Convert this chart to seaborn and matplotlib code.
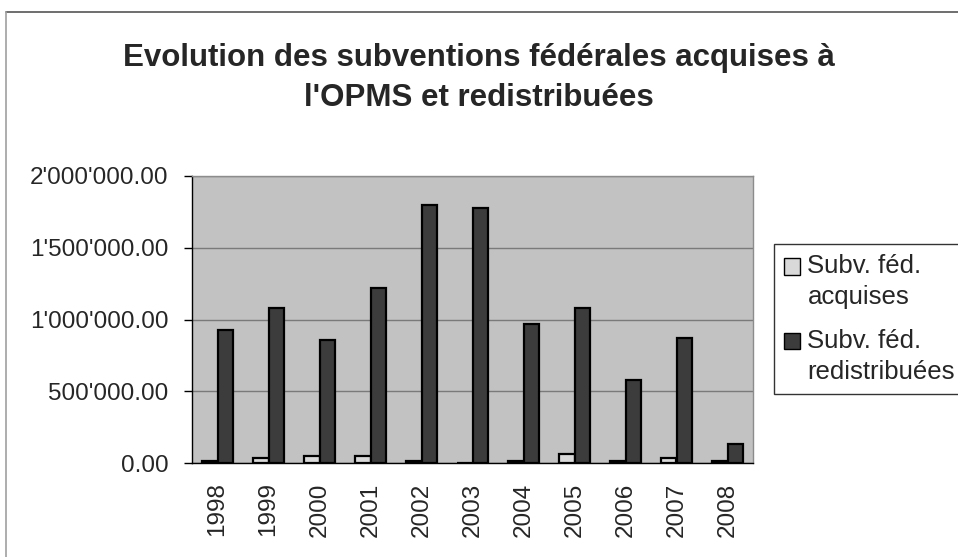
import matplotlib
matplotlib.use("Agg")
import matplotlib.pyplot as plt
import matplotlib.ticker as mticker
from matplotlib.lines import Line2D
from matplotlib.patches import Patch, Rectangle
from matplotlib.legend_handler import HandlerPatch
import seaborn as sns
import pandas as pd
import numpy as np

years = ["1998", "1999", "2000", "2001", "2002", "2003", "2004", "2005", "2006", "2007", "2008"]
acquises = [12000, 38000, 49000, 48000, 12000, 0, 12000, 62000, 12000, 37000, 12000]
redistribuees = [925000, 1082000, 857000, 1222000, 1796000, 1779000, 969000, 1082000, 578000, 873000, 132000]
series_names = ["Subv. féd.\nacquises", "Subv. féd.\nredistribuées"]
title = "Evolution des subventions fédérales acquises à\nl'OPMS et redistribuées"

sns.set_theme(style="white")
plt.rcParams["font.family"] = ["Liberation Sans", "DejaVu Sans"]

df = pd.DataFrame({
    "year": years * 2,
    "series": [series_names[0]] * len(years) + [series_names[1]] * len(years),
    "value": acquises + redistribuees,
})

fig = plt.figure(figsize=(9.58, 5.57), dpi=100)
ax = fig.add_axes([192 / 958, 94 / 557, 561 / 958, 287 / 557])
ax.set_facecolor("#c2c2c2")

colors = ["#d9d9d9", "#3c3c3c"]
sns.barplot(data=df, x="year", y="value", hue="series", hue_order=series_names,
            palette=colors, saturation=1, edgecolor="black", linewidth=1.6,
            width=0.6, gap=0, ax=ax, legend=False, zorder=3)

ax.set_ylim(0, 2000000)
ax.set_xlim(-0.5, len(years) - 0.5)
ax.yaxis.set_major_locator(mticker.MultipleLocator(500000))
ax.yaxis.set_major_formatter(mticker.FuncFormatter(lambda v, p: f"{v:,.2f}".replace(",", "'")))
ax.grid(axis="y", color="#7a7a7a", linewidth=1.0, zorder=1)
ax.set_axisbelow(True)
for b in ax.patches:
    b.set_zorder(3)

ax.set_xlabel("")
ax.set_ylabel("")
ax.set_xticks(range(len(years)))
ax.set_xticklabels(years, rotation=90, fontsize=17.5)
ax.tick_params(axis="x", which="major", length=0, pad=14)
ax.set_xticks(np.arange(-0.5, len(years), 1.0), minor=True)
ax.tick_params(axis="x", which="minor", length=5, width=1, color="black", direction="out")
ax.tick_params(axis="y", labelsize=17.5, length=6, width=1, color="black", direction="out", left=True, pad=11)

for side in ["left", "bottom"]:
    ax.spines[side].set_color("black")
    ax.spines[side].set_linewidth(1.0)
for side in ["top", "right"]:
    ax.spines[side].set_color("#8c8c8c")
    ax.spines[side].set_linewidth(1.0)

fig.text(0.5, 1 - 78 / 557, title, ha="center", va="center", fontsize=22.5,
         fontweight="bold", linespacing=1.4)


class TopHandler(HandlerPatch):
    def create_artists(self, legend, orig_handle, xdescent, ydescent, width, height, fontsize, trans):
        off = 0.62 * fontsize
        r = Rectangle((-xdescent, -ydescent + off), width, height,
                      facecolor=orig_handle.get_facecolor(), edgecolor="black", linewidth=1.0)
        r.set_transform(trans)
        return [r]


handles = [Patch(facecolor=colors[0], edgecolor="black", linewidth=1.0),
           Patch(facecolor=colors[1], edgecolor="black", linewidth=1.0)]
leg = fig.legend(handles, series_names, loc="upper left",
                 bbox_to_anchor=(774 / 958, 1 - 244 / 557), borderaxespad=0,
                 fontsize=18.5, frameon=True, fancybox=False, edgecolor="black",
                 handlelength=0.6, handleheight=0.6, handletextpad=0.3,
                 borderpad=0.4, labelspacing=0.75,
                 handler_map={Patch: TopHandler()})
leg.get_frame().set_linewidth(1.0)
for t in leg.get_texts():
    t.set_linespacing(1.38)

# outer chart frame
fig.add_artist(Line2D([6 / 958, 1], [1 - 12 / 557, 1 - 12 / 557], color="#555555", linewidth=1.2, transform=fig.transFigure))
fig.add_artist(Line2D([6 / 958, 6 / 958], [0, 1 - 12 / 557], color="#a0a0a0", linewidth=1.2, transform=fig.transFigure))

fig.savefig("out.png", dpi=100, facecolor="white")
